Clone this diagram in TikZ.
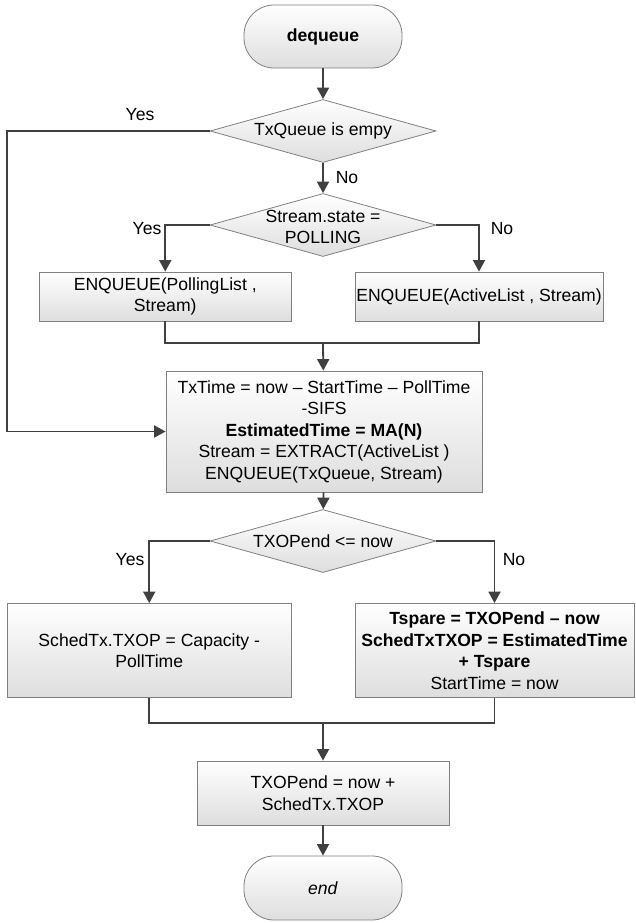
\documentclass[tikz,border=0pt]{standalone}
\usepackage{fontspec}
\setmainfont{Liberation Sans}
\usetikzlibrary{arrows.meta,shapes.geometric}
\begin{document}
\begin{tikzpicture}[x=1pt,y=-1pt,
  font=\fontsize{17.6}{21.5}\selectfont,
  wire/.style={draw=black!75, line width=1.8pt},
  flow/.style={wire, -{Triangle[length=11.5pt,width=12pt]}},
  procbox/.style={rectangle, draw=black!50, line width=0.8pt, top color=white,
    bottom color=black!13, align=center, inner sep=1pt},
  term/.style={procbox, rounded corners=30pt},
  decision/.style={diamond, draw=black!50, line width=0.8pt, top color=white,
    bottom color=black!13, inner sep=0pt, minimum width=226pt, minimum height=63pt},
  lbl/.style={inner sep=0pt, align=center}
]
\useasboundingbox (0,0) rectangle (635,923);

% start / end terminators
\node[term, minimum width=158pt, minimum height=63pt] (start) at (323,36.5) {\textbf{dequeue}};
\node[term, minimum width=158pt, minimum height=64pt] (stop) at (323,888) {\textit{end}};

% decisions
\node[decision] (d1) at (323,131) {};
\node[lbl] (d1t) at (323,131) {TxQueue is empy};
\node[decision] (d2) at (323,225) {};
\node[lbl] (d2t) at (323,227) {Stream.state =\\POLLING};
\node[decision] (d3) at (323,541) {};
\node[lbl] (d3t) at (323,541) {TXOPend <= now};

% process boxes
\node[procbox, minimum width=252.5pt, minimum height=49pt] (pl) at (165.25,296.5)
  {ENQUEUE(PollingList ,\\Stream)};
\node[procbox, minimum width=248pt, minimum height=49pt] (al) at (479,296.5)
  {ENQUEUE(ActiveList , Stream)};
\node[procbox, minimum width=316pt, minimum height=121pt] (task) at (324,431.5)
  {TxTime = now -- StartTime -- PollTime\\-SIFS\\\textbf{EstimatedTime = MA(N)}\\
   Stream = EXTRACT(ActiveList )\\ENQUEUE(TxQueue, Stream)};
\node[procbox, minimum width=284.5pt, minimum height=94pt] (sl) at (149.25,650.5)
  {SchedTx.TXOP = Capacity -\\PollTime};
\node[procbox, minimum width=279pt, minimum height=94pt] (sr) at (494.5,650.5)
  {\textbf{Tspare = TXOPend -- now}\\\textbf{SchedTxTXOP = EstimatedTime}\\
   \textbf{+ Tspare}\\StartTime = now};
\node[procbox, minimum width=252pt, minimum height=64pt] (fin) at (323,793)
  {TXOPend = now +\\SchedTx.TXOP};

% junction and turning points
\coordinate (loop) at (7,300);
\coordinate (j1) at (323,343);
\coordinate (j2) at (323,723);

% connectors
\draw[flow] (start) -- (d1);
\draw[flow] (d1.west) -| (loop) |- (task.west);
\draw[flow] (d1) -- (d2);
\draw[flow] (d2.west) -| (pl.north);
\draw[flow] (d2.east) -| (al.north);
\draw[wire] (pl.south) |- (j1) -| (al.south);
\draw[flow] (j1) -- (task);
\draw[flow] (task) -- (d3);
\draw[flow] (d3.west) -| (sl.north);
\draw[flow] (d3.east) -| (sr.north);
\draw[wire] (sl.south) |- (j2) -| (sr.south);
\draw[flow] (j2) -- (fin);
\draw[flow] (fin) -- (stop);

% branch labels
\node[lbl] (y1) at (140,115) {Yes};
\node[lbl] (n1) at (347,178) {No};
\node[lbl] (y2) at (147,229) {Yes};
\node[lbl] (n2) at (502,229) {No};
\node[lbl] (y3) at (130,560) {Yes};
\node[lbl] (n3) at (514,560) {No};
\end{tikzpicture}
\end{document}
